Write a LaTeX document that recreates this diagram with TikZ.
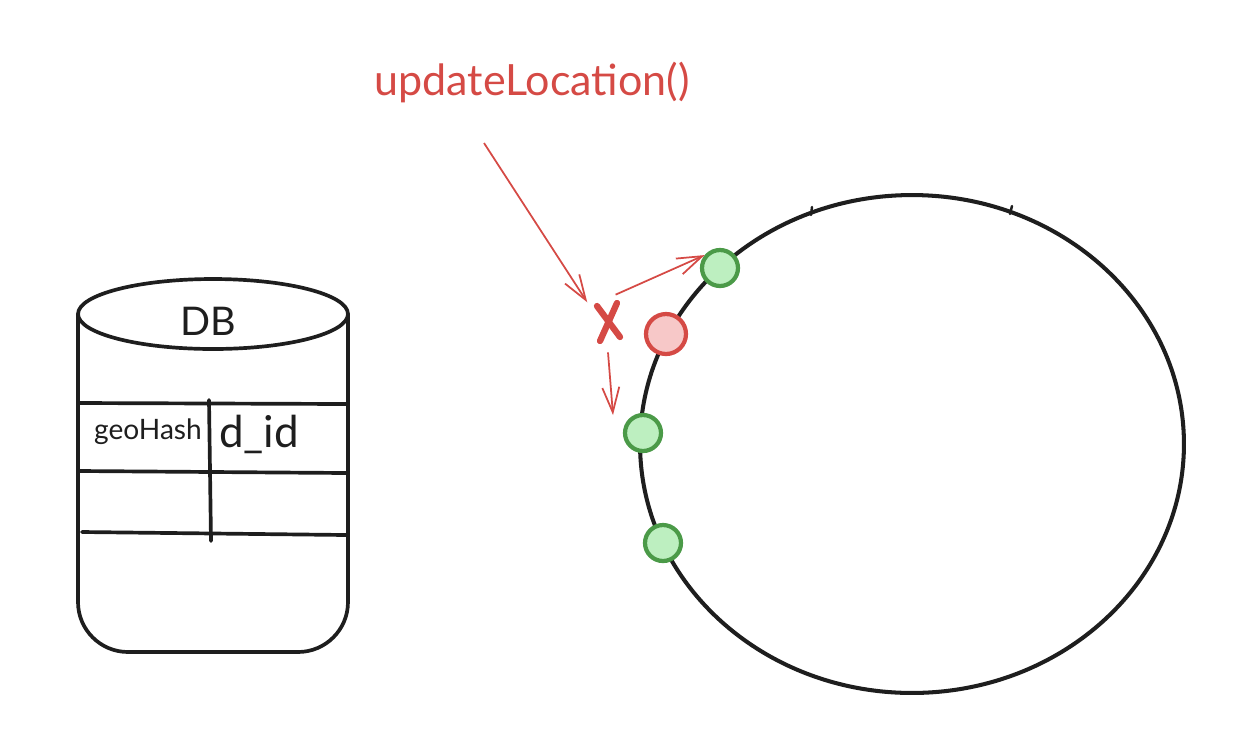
\documentclass[tikz,border=0pt]{standalone}
\usepackage{fontspec}
\setmainfont{Lato}
\usetikzlibrary{arrows.meta}
\definecolor{ink}{HTML}{1E1E1E}
\definecolor{redline}{HTML}{D54A45}
\definecolor{redfill}{HTML}{F7C8C8}
\definecolor{greenline}{HTML}{4B9A48}
\definecolor{greenfill}{HTML}{BDEFC0}
\tikzset{
  px/.style={x=0.02cm,y=-0.02cm},
  sketch/.style={draw=ink,line width=2.1pt,line cap=round,line join=round},
  ringline/.style={draw=ink,line width=2.3pt},
  goodnode/.style={circle,draw=greenline,fill=greenfill,line width=2.4pt,minimum size=0.72cm,inner sep=0pt},
  badnode/.style={circle,draw=redline,fill=redfill,line width=2.4pt,minimum size=0.8cm,inner sep=0pt},
  redarrow/.style={draw=redline,line width=1pt,-{Straight Barb[length=0.5cm,width=0.34cm,line width=1pt]}},
  lbl/.style={inner sep=0pt,text=ink}
}
\begin{document}
\begin{tikzpicture}[px]
\useasboundingbox (0,0) rectangle (1248,752);
% ---- DB cylinder ----
\draw[sketch] (78,314) -- (78,602) arc[start angle=180,end angle=270,radius=1cm] -- (298,652)
  arc[start angle=270,end angle=360,radius=1cm] -- (348,314);
\draw[sketch] (213,314) ellipse[x radius=2.7cm,y radius=0.7cm];
\draw[sketch] (80,403) -- (346,404);
\draw[sketch] (80,471) -- (346,473);
\draw[sketch] (82,532) -- (346,535);
\draw[sketch] (209,400) -- (211,541);
\node[lbl,font=\fontsize{22.5}{26}\selectfont] (db) at (208,321) {DB};
\node[lbl,font=\fontsize{16}{18}\selectfont] (gh) at (148,432) {geoHash};
\node[lbl,font=\fontsize{25}{28}\selectfont] (did) at (259,434) {d\_id};
% ---- ring ----
\draw[ringline] (912,444) ellipse[x radius=5.44cm,y radius=4.98cm];
\draw[ink,line width=1.4pt,line cap=round] (812,207) -- (811,215);
\draw[ink,line width=1.4pt,line cap=round] (1012,206) -- (1010,214);
\node[goodnode] (g1) at (720,268) {};
\node[badnode] (r1) at (666,334) {};
\node[goodnode] (g2) at (643,433) {};
\node[goodnode] (g3) at (663,543) {};
% ---- failed update ----
\node[lbl,text=redline,font=\fontsize{24.5}{28}\selectfont] (upd) at (532,82) {updateLocation()};
\node[circle,minimum size=1.16cm,inner sep=0pt] (x) at (608,323) {};
\draw[redline,line width=3.6pt,line cap=round] (597,306) -- (620,337);
\draw[redline,line width=3.6pt,line cap=round] (617,303) -- (600,341);
\coordinate (a1) at (484,143);
\coordinate (t3) at (613,415);
\draw[redarrow] (a1) -- (x.135);
\draw[redarrow] (x.75) -- (g1.140);
\draw[redarrow] (x.south) -- (t3);
\end{tikzpicture}
\end{document}
